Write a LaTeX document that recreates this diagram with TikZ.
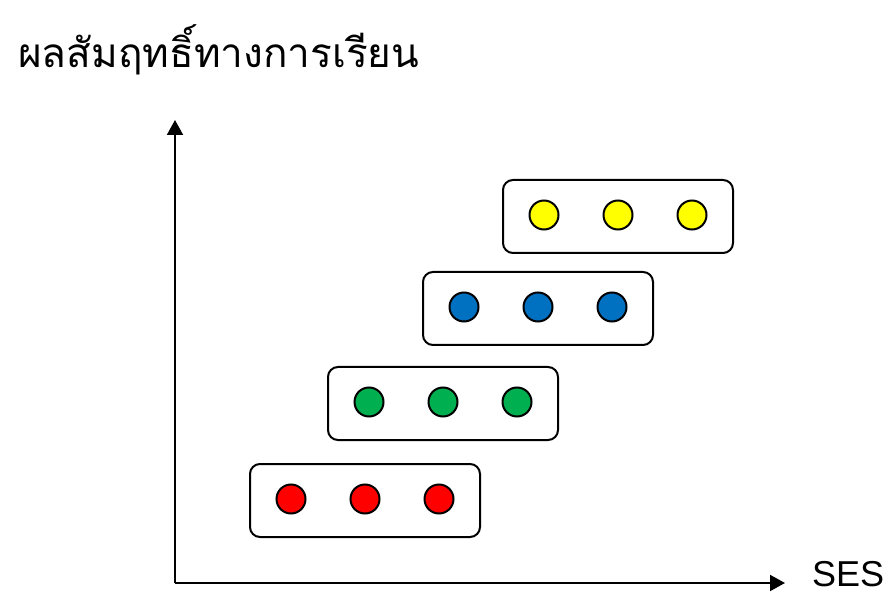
\documentclass[tikz,border=0pt]{standalone}
\usepackage{fontspec}
\setmainfont{Liberation Sans}
\newfontfamily\thaifont[Script=Thai]{Loma}
\usetikzlibrary{arrows.meta,positioning}
\definecolor{lvred}{HTML}{FF0000}
\definecolor{lvgreen}{HTML}{00B050}
\definecolor{lvblue}{HTML}{0070C0}
\definecolor{lvyellow}{HTML}{FFFF00}

\begin{document}
\begin{tikzpicture}[
  x=1pt, y=-1pt,
  group/.style={draw, rounded corners=10pt, line width=2pt, minimum width=230pt, minimum height=73pt, inner sep=0pt},
  dot/.style={circle, draw, line width=2pt, minimum size=29pt, inner sep=0pt},
  axis/.style={-{Triangle[length=15pt,width=16pt]}, line width=2pt},
]
  \useasboundingbox (0,0) rectangle (894,593);

  % axes
  \coordinate (origin) at (175,583);
  \coordinate (ytip) at (175,120);
  \coordinate (xtip) at (785,583);
  \draw[axis] (origin) -- (ytip);
  \draw[axis] (origin) -- (xtip);

  \node[anchor=base west, inner sep=0pt, font=\fontsize{40.5}{40.5}\selectfont\thaifont] (ylabel) at (18,68) {ผลสัมฤทธิ์ทางการเรียน};
  \node[anchor=base west, inner sep=0pt, text depth=0pt, font=\fontsize{36}{36}\selectfont] (xlabel) at (812,586) {SES};

  % one box of three dots per level
  \foreach \name/\col/\cx/\cy in {r/lvred/365/500.5, g/lvgreen/443/403.5, b/lvblue/538/308.5, y/lvyellow/618/216.5} {
    \node[group] (box\name) at (\cx,\cy) {};
    \foreach \i/\dx in {1/-74, 2/0, 3/74} {
      \node[dot, fill=\col] (\name\i) at ([xshift=\dx pt, yshift=1.5pt]box\name.center) {};
    }
  }
\end{tikzpicture}
\end{document}
